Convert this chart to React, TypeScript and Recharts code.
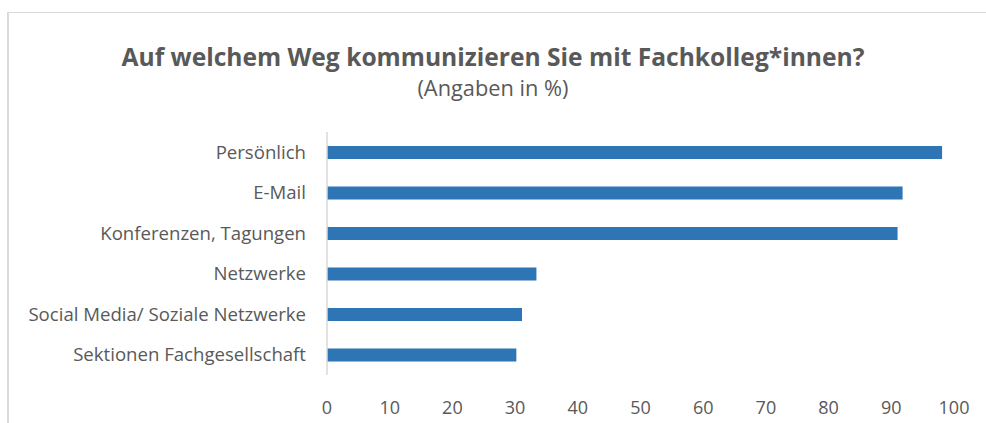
import { Bar, BarChart, XAxis, YAxis } from "recharts";

const categories = [
  "Persönlich",
  "E-Mail",
  "Konferenzen, Tagungen",
  "Netzwerke",
  "Social Media/ Soziale Netzwerke",
  "Sektionen Fachgesellschaft",
];
const shares = [98.1, 91.8, 91.0, 33.4, 31.1, 30.2];
const xTicks = [0, 10, 20, 30, 40, 50, 60, 70, 80, 90, 100];

const data = categories.map((name, i) => ({ name, value: shares[i] }));

const font = "'Open Sans', sans-serif";
const textColor = "#595959";

export default function App() {
  return (
    <div style={{ position: "absolute", left: 0, top: 0, width: 986, height: 423, background: "#fff", overflow: "hidden", fontFamily: font }}>
      <div
        style={{
          position: "absolute", left: 7, top: 12, width: 1200, height: 600,
          borderTop: "1px solid #D9D9D9", borderLeft: "2px solid #D9D9D9",
        }}
      />
      <div style={{ position: "absolute", left: 0, width: 986, top: 40, textAlign: "center", color: textColor, fontSize: 24.6, fontWeight: 700, whiteSpace: "nowrap" }}>
        Auf welchem Weg kommunizieren Sie mit Fachkolleg*innen?
      </div>
      <div style={{ position: "absolute", left: 0, width: 986, top: 73, textAlign: "center", color: textColor, fontSize: 21.8 }}>
        (Angaben in %)
      </div>
      <div style={{ position: "absolute", left: 0, top: 0 }}>
        <BarChart
          width={986}
          height={423}
          data={data}
          layout="vertical"
          margin={{ top: 132, right: 32, bottom: 8, left: 7 }}
          barCategoryGap={0}
        >
          <XAxis
            type="number"
            domain={[0, 100]}
            ticks={xTicks}
            axisLine={false}
            tickLine={false}
            tickMargin={20}
            height={40}
            tick={{ fontSize: 18, fill: textColor, fontFamily: font }}
          />
          <YAxis
            type="category"
            dataKey="name"
            width={320}
            axisLine={{ stroke: "#D9D9D9", strokeWidth: 1.5 }}
            tickLine={false}
            tickMargin={15}
            interval={0}
            tick={{ fontSize: 18.6, fill: textColor, fontFamily: font }}
          />
          <Bar dataKey="value" fill="#2E75B6" barSize={13} isAnimationActive={false} />
        </BarChart>
      </div>
    </div>
  );
}
